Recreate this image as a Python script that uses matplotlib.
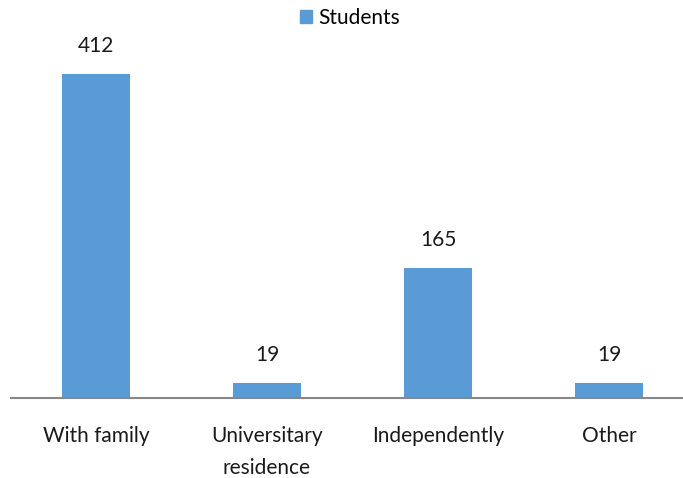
import matplotlib
matplotlib.use("Agg")
import matplotlib.pyplot as plt
from matplotlib.patches import Patch

categories = ["With family", "Universitary\nresidence", "Independently", "Other"]
values = [412, 19, 165, 19]
series_name = "Students"
color = "#5B9BD5"

plt.rcParams['font.family'] = ['Lato', 'DejaVu Sans']

fig = plt.figure(figsize=(6.83, 4.78), dpi=100)
W, H = 683, 478
left, right = 10.5, 694.5
bottom, top = 80, 428
ax = fig.add_axes([left / W, bottom / H, (right - left) / W, (top - bottom) / H])

x = list(range(len(categories)))
bars = ax.bar(x, values, width=0.4, color=color, zorder=2)
ax.set_xlim(-0.5, len(categories) - 0.5)
ax.set_ylim(0, 412 * (398 - 50) / (398 - 74))

for xi, v in zip(x, values):
    ax.text(xi, v + 412 * 18 / 324, str(v), ha="center", va="bottom", fontsize=15, color="#1a1a1a")

ax.set_xticks(x)
ax.set_xticklabels(categories, fontsize=15, color="#1a1a1a", linespacing=1.75)
ax.tick_params(axis="x", length=0, pad=20)
ax.set_yticks([])
for s in ["left", "right", "top"]:
    ax.spines[s].set_visible(False)
ax.spines["bottom"].set_color("#888888")
ax.spines["bottom"].set_linewidth(1.5)

fig.legend(handles=[Patch(color=color, label=series_name)], loc="center",
           bbox_to_anchor=(350 / W, 1 - 18 / H), frameon=False, fontsize=15,
           handlelength=0.6, handleheight=0.6, handletextpad=0.3)

fig.savefig("out.png", dpi=100)
